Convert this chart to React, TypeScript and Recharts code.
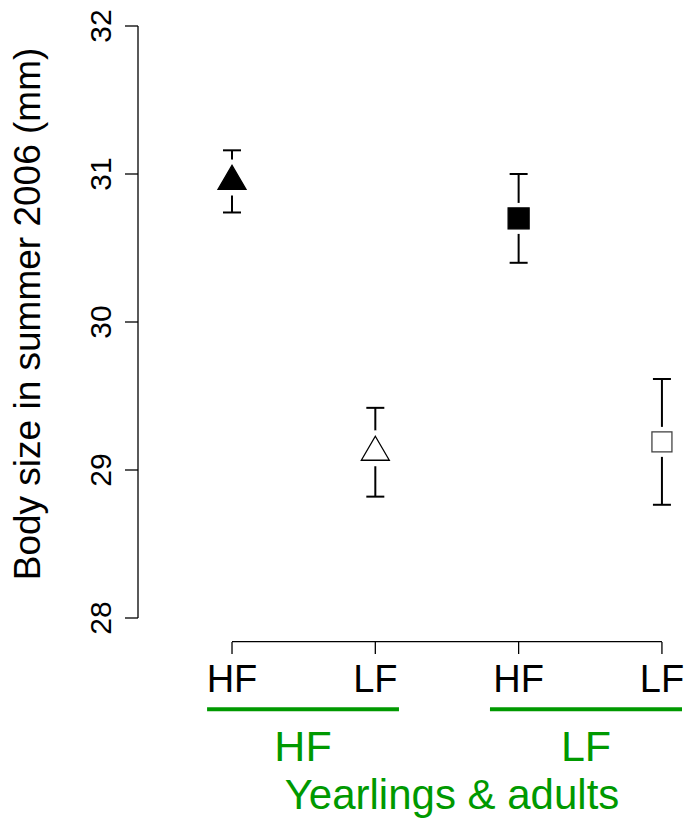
import React from "react";
import { ScatterChart, Scatter, XAxis, YAxis, ErrorBar, ReferenceLine, Label } from "recharts";

// treatment of each point (x axis), and the group it belongs to
const categories = ["HF", "LF", "HF", "LF"];
const groups = ["HF", "LF"];
const means = [30.95, 29.12, 30.7, 29.19];
const errors = [0.21, 0.3, 0.3, 0.425];
const yTicks = [28, 29, 30, 31, 32];
const xTicks = [1, 2, 3, 4];

// where the offset R-style axis and group bars sit (data units)
const X_AXIS_LEVEL = 27.84;
const GROUP_LEVEL = 27.383;
const groupSpans = [
  [0.826, 2.165],
  [2.8, 4.14],
];

const FONT = "'Liberation Sans', Arial, Helvetica, sans-serif";
const GREEN = "#009900";

const rows = categories.map((c, i) => ({ x: i + 1, y: means[i], err: errors[i], label: c }));

const Triangle = (props: any) => {
  const { cx, cy, filled } = props;
  const pts = `${cx},${cy - 16} ${cx + 14},${cy + 8} ${cx - 14},${cy + 8}`;
  return (
    <g>
      <polygon points={pts} fill="#fff" stroke="#fff" strokeWidth={12} strokeLinejoin="round" />
      <polygon points={pts} fill={filled ? "#000" : "#fff"} stroke="#000" strokeWidth={1.3} />
    </g>
  );
};

const Square = (props: any) => {
  const { cx, cy, filled } = props;
  const s = filled ? 21 : 20;
  return (
    <g>
      <rect x={cx - s / 2} y={cy - s / 2} width={s} height={s} fill="#fff" stroke="#fff" strokeWidth={10} />
      <rect x={cx - s / 2} y={cy - s / 2} width={s} height={s} fill={filled ? "#000" : "#fff"} stroke={filled ? "#000" : "#444"} strokeWidth={1.3} />
    </g>
  );
};

const YTick = (props: any) => {
  const { x, y, payload } = props;
  return (
    <text x={x} y={y} transform={`rotate(-90, ${x}, ${y})`} textAnchor="middle" fontSize={30} fontFamily={FONT} fill="#000">
      {payload.value}
    </text>
  );
};

const XTick = (props: any) => {
  const { x, y, payload } = props;
  return (
    <g>
      <line x1={x} y1={y} x2={x} y2={y + 12} stroke="#000" strokeWidth={1.3} />
      <text x={x} y={y + 50} textAnchor="middle" fontSize={38} fontFamily={FONT} fill="#000">
        {categories[payload.value - 1]}
      </text>
    </g>
  );
};

const shapes = [
  (p: any) => <Triangle {...p} filled />,
  (p: any) => <Triangle {...p} />,
  (p: any) => <Square {...p} filled />,
  (p: any) => <Square {...p} />,
];

export default function App() {
  return (
    <div style={{ position: "absolute", left: 0, top: 0, width: 690, height: 819, background: "#fff" }}>
      <ScatterChart width={690} height={819} margin={{ top: 26, right: 8, bottom: 0, left: 0 }}>
        <XAxis
          type="number"
          dataKey="x"
          domain={[0.344, 4.14]}
          ticks={xTicks}
          interval={0}
          allowDataOverflow
          height={201}
          axisLine={false}
          tickLine={false}
          tickSize={24}
          tickMargin={0}
          tick={<XTick />}
        >
          <Label
            position="insideBottom"
            content={(p: any) => {
              const vb = p.viewBox;
              return (
                <text x={vb.x + vb.width / 2 + 42} y={vb.y + vb.height - 10} textAnchor="middle" fontSize={42} fontFamily={FONT} fill={GREEN}>
                  Yearlings &amp; adults
                </text>
              );
            }}
          />
        </XAxis>
        <YAxis
          type="number"
          dataKey="y"
          domain={[28, 32]}
          ticks={yTicks}
          interval={0}
          allowDataOverflow
          width={138}
          tickSize={13}
          tickMargin={14}
          axisLine={{ stroke: "#000", strokeWidth: 1.3 }}
          tickLine={{ stroke: "#000", strokeWidth: 1.3 }}
          tick={<YTick />}
        >
          <Label
            position="left"
            content={(p: any) => {
              const vb = p.viewBox;
              const cx = 40;
              const cy = vb.y + vb.height / 2 - 8;
              return (
                <text x={cx} y={cy} transform={`rotate(-90, ${cx}, ${cy})`} textAnchor="middle" fontSize={37} fontFamily={FONT} fill="#000">
                  Body size in summer 2006 (mm)
                </text>
              );
            }}
          />
        </YAxis>
        <ReferenceLine
          segment={[
            { x: 1, y: X_AXIS_LEVEL },
            { x: 4, y: X_AXIS_LEVEL },
          ]}
          stroke="#000"
          strokeWidth={1.3}
          ifOverflow="visible"
        />
        {groupSpans.map((s, i) => (
          <ReferenceLine
            key={i}
            segment={[
              { x: s[0], y: GROUP_LEVEL },
              { x: s[1], y: GROUP_LEVEL },
            ]}
            stroke={GREEN}
            strokeWidth={4}
            ifOverflow="visible"
            label={{ value: groups[i], position: "bottom", offset: 21, fill: GREEN, fontSize: 43, fontFamily: FONT }}
          />
        ))}
        {rows.map((r, i) => (
          <Scatter key={i} data={[r]} shape={shapes[i]} isAnimationActive={false}>
            <ErrorBar dataKey="err" direction="y" width={9} stroke="#000" strokeWidth={2} />
          </Scatter>
        ))}
      </ScatterChart>
    </div>
  );
}
